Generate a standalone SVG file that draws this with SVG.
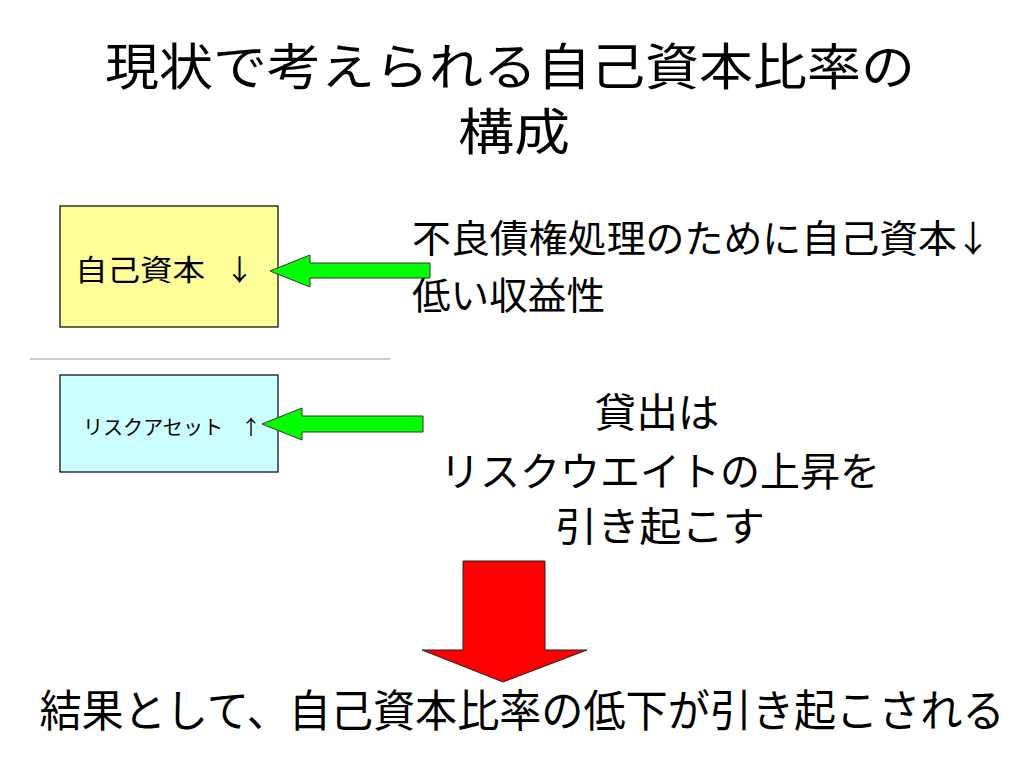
<svg xmlns="http://www.w3.org/2000/svg" width="1024" height="768" viewBox="0 0 1024 768">
<style>
text{font-family:"Liberation Sans","Noto Sans CJK JP",sans-serif;fill:#000}
.arr{font-family:"Noto Sans CJK JP",sans-serif}
.box{stroke:#000;stroke-width:1.2}
.green{fill:#00FF00;stroke:#333;stroke-width:1}
.red{fill:#FF0000;stroke:#222;stroke-width:1}
</style>
<rect width="1024" height="768" fill="#fff"/>
<g id="title">
<text x="510" y="85" font-size="50" text-anchor="middle" textLength="810" lengthAdjust="spacingAndGlyphs">現状で考えられる自己資本比率の</text>
<text x="514" y="150" font-size="50" text-anchor="middle" textLength="112" lengthAdjust="spacingAndGlyphs">構成</text>
</g>
<g id="node-equity">
<rect class="box" x="60" y="206" width="218" height="121" fill="#FFFF99"/>
<text x="75" y="281" font-size="29" textLength="130" lengthAdjust="spacingAndGlyphs">自己資本</text>
<text x="225" y="281" font-size="29" class="arr">↓</text>
</g>
<line x1="30" y1="359" x2="390" y2="359" stroke="#999" stroke-width="1"/>
<g id="node-riskasset">
<rect class="box" x="60" y="375" width="218" height="97" fill="#CCFFFF"/>
<text x="83" y="435" font-size="20" textLength="140" lengthAdjust="spacingAndGlyphs">リスクアセット</text>
<text x="241" y="435" font-size="20" class="arr">↑</text>
</g>
<g id="text-reasons">
<text x="412" y="252" font-size="38" textLength="545" lengthAdjust="spacingAndGlyphs">不良債権処理のために自己資本</text>
<text x="955" y="252" font-size="36" class="arr">↓</text>
<text x="412" y="309" font-size="38" textLength="193" lengthAdjust="spacingAndGlyphs">低い収益性</text>
</g>
<g id="text-loans">
<text x="657" y="427" font-size="40" text-anchor="middle" textLength="125" lengthAdjust="spacingAndGlyphs">貸出は</text>
<text x="660" y="486" font-size="40" text-anchor="middle" textLength="440" lengthAdjust="spacingAndGlyphs">リスクウエイトの上昇を</text>
<text x="660" y="541" font-size="40" text-anchor="middle" textLength="210" lengthAdjust="spacingAndGlyphs">引き起こす</text>
</g>
<g id="connectors">
<polygon class="green" points="270,271 310,255 310,263 430,263 430,278 310,278 310,287"/>
<polygon class="green" points="262,424 302,408 302,416 423,416 423,432 302,432 302,440"/>
<polygon class="red" points="463,561 545,561 545,650 587,650 503,682 422,650 463,650"/>
</g>
<g id="result">
<text x="522" y="727" font-size="44" text-anchor="middle" textLength="965" lengthAdjust="spacingAndGlyphs">結果として、自己資本比率の低下が引き起こされる</text>
</g>
</svg>
